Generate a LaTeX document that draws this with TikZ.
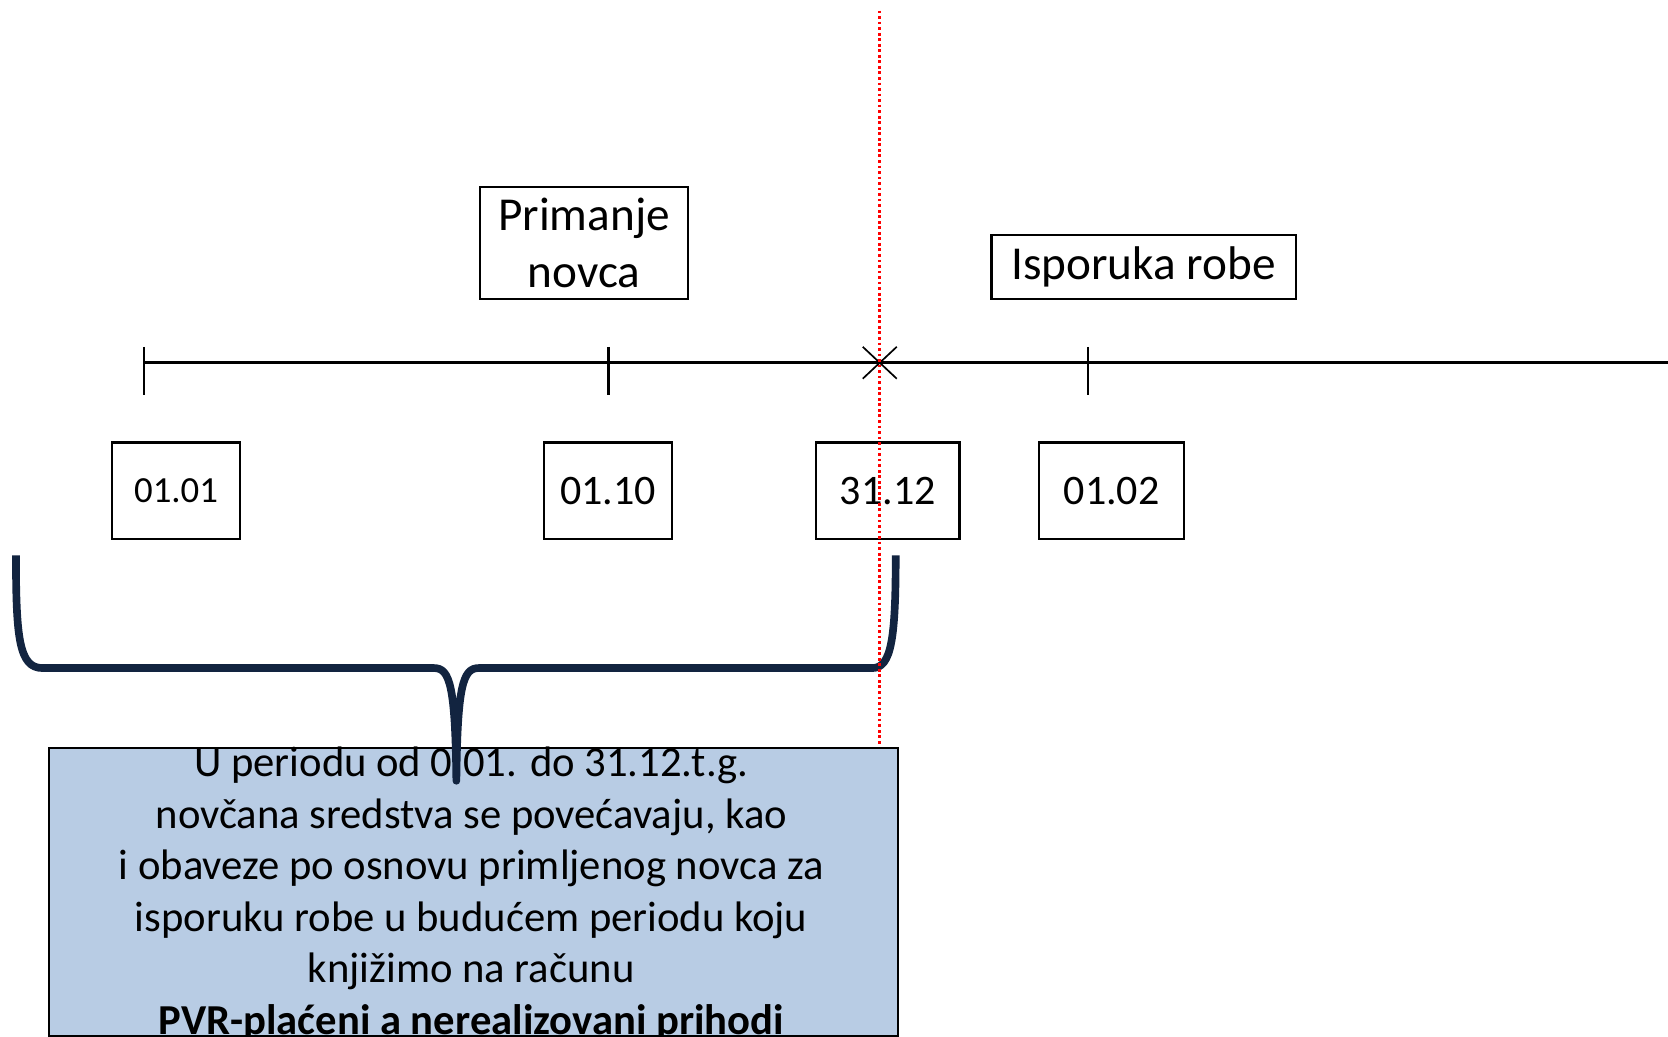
\documentclass[tikz,border=0pt]{standalone}
\usepackage{fontspec}
\setmainfont{Carlito}
\definecolor{bracec}{RGB}{18,36,64}
\definecolor{boxblue}{RGB}{184,204,228}
\definecolor{redline}{RGB}{255,0,0}
\begin{document}
\begin{tikzpicture}[x=0.5pt,y=-0.5pt,
  box/.style={draw, line width=1pt, inner sep=0pt, align=center},
  bigtxt/.style={font=\fontsize{22.2}{27}\selectfont},
  datetxt/.style={font=\fontsize{19.75}{24}\selectfont},
  smalldate/.style={font=\fontsize{17.3}{21}\selectfont},
  bodytxt/.style={font=\fontsize{20.05}{24.2}\selectfont, align=center, inner sep=0pt},
  axis/.style={line width=1.5pt},
  tickmark/.style={line width=1pt},
  cross/.style={line width=0.8pt},
  bracestyle/.style={draw=bracec, line width=3.6pt, line join=round},
  reddots/.style={draw=redline, line width=1.2pt, dash pattern=on 1.3pt off 1.3pt}]
\useasboundingbox (0,0) rectangle (1568,974);
\clip (0,0) rectangle (1568,974);

% upper labels
\node[box, bigtxt, minimum width=98pt, minimum height=52.5pt] (prim) at (549,228.5) {Primanje\\novca};
\node[box, bigtxt, minimum width=143pt, minimum height=30pt] (isp) at (1075,251) {\raisebox{-1.5pt}{Isporuka robe}};

% timeline
\coordinate (t0) at (135,341);
\coordinate (tend) at (1568,341);
\draw[axis] (t0) -- (tend);
\coordinate (k1a) at (135,326); \coordinate (k1b) at (135,371);
\coordinate (k2a) at (572,326); \coordinate (k2b) at (572,371);
\coordinate (k3a) at (1023,326); \coordinate (k3b) at (1023,371);
\draw[tickmark] (k1a) -- (k1b);
\draw[tickmark] (k2a) -- (k2b);
\draw[tickmark] (k3a) -- (k3b);
\coordinate (xa) at (811,326); \coordinate (xb) at (843,356);
\coordinate (xc) at (811,356); \coordinate (xd) at (843,326);
\draw[cross] (xa) -- (xb);
\draw[cross] (xc) -- (xd);

% dates
\node[box, smalldate, minimum width=60.5pt, minimum height=45.5pt] (d1) at (165.5,461.5) {01.01};
\node[box, datetxt, minimum width=60.5pt, minimum height=45.5pt] (d2) at (571.5,461.5) {01.10};
\node[box, datetxt, minimum width=67.5pt, minimum height=45.5pt] (d3) at (834.5,461.5) {31.12};
\node[box, datetxt, minimum width=68pt, minimum height=45.5pt] (d4) at (1045,461.5) {01.02};

% info box
\node[draw, fill=boxblue, line width=1pt, inner sep=0pt, minimum width=399pt, minimum height=135.5pt, anchor=north west] (info) at (45,702) {};
\node[bodytxt, anchor=north] (infotext) at (443,702) {U periodu od 0.01. do 31.12.t.g.\\
novčana sredstva se povećavaju, kao\\
i obaveze po osnovu primljenog novca za\\
isporuku robe u budućem periodu koju\\
knjižimo na računu\\
\textbf{PVR-plaćeni a nerealizovani prihodi}};

% brace
\coordinate (bl) at (15,522);
\coordinate (br) at (842,522);
\coordinate (btip) at (429,734);
\draw[bracestyle] (bl) .. controls (15,600) and (18,628) .. (40,628)
  -- (408,628) .. controls (423,628) and (428,645) .. (btip)
  .. controls (430,645) and (435,628) .. (450,628)
  -- (820,628) .. controls (838,628) and (842,600) .. (br);

% red dotted line
\coordinate (rtop) at (827,10);
\coordinate (rbot) at (827,701);
\draw[reddots] (rtop) -- (rbot);
\end{tikzpicture}
\end{document}
